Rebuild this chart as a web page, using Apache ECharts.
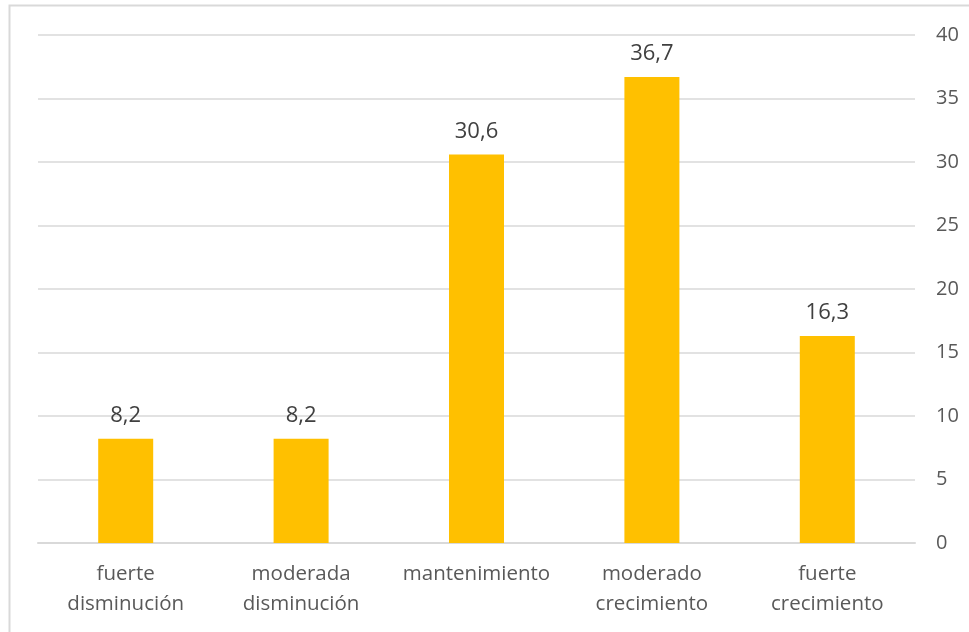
<!DOCTYPE html>
<html><head><meta charset="utf-8">
<script src="https://cdn.jsdelivr.net/npm/echarts@6/dist/echarts.min.js"></script>
<style>html,body{margin:0;padding:0;background:#fff}#c{width:969px;height:632px}</style>
</head><body><div id="c"></div>
<script>
const categories = ['fuerte\ndisminución', 'moderada\ndisminución', 'mantenimiento', 'moderado\ncrecimiento', 'fuerte\ncrecimiento'];
const values = [8.2, 8.2, 30.6, 36.7, 16.3];
const yTicks = [0, 5, 10, 15, 20, 25, 30, 35, 40];

const chart = echarts.init(document.getElementById('c'));
chart.setOption({
  animation: false,
  textStyle: { fontFamily: 'Open Sans' },
  graphic: [{
    type: 'rect', shape: { x: 9.5, y: 5.5, width: 980, height: 700 },
    style: { fill: 'none', stroke: '#d9d9d9', lineWidth: 2 }, silent: true, z: -1
  }],
  grid: { left: 38, right: 54, top: 35, bottom: 89 },
  xAxis: {
    type: 'category', data: categories,
    axisLine: { lineStyle: { color: '#d9d9d9', width: 2 } },
    axisTick: { show: false },
    axisLabel: { color: '#595959', fontSize: 20.5, lineHeight: 30, margin: 16, interval: 0 }
  },
  yAxis: {
    type: 'value', position: 'right', min: yTicks[0], max: yTicks[yTicks.length - 1], interval: 5,
    axisLine: { show: false }, axisTick: { show: false },
    splitLine: { lineStyle: { color: '#d9d9d9', width: 1.5 } },
    axisLabel: { color: '#595959', fontSize: 20, margin: 21 }
  },
  series: [{
    type: 'bar', data: values, barWidth: 55,
    itemStyle: { color: '#ffc000' },
    label: {
      show: true, position: 'top', distance: 12, color: '#404040', fontSize: 22,
      formatter: p => String(p.value).replace('.', ',')
    }
  }]
});
</script></body></html>
